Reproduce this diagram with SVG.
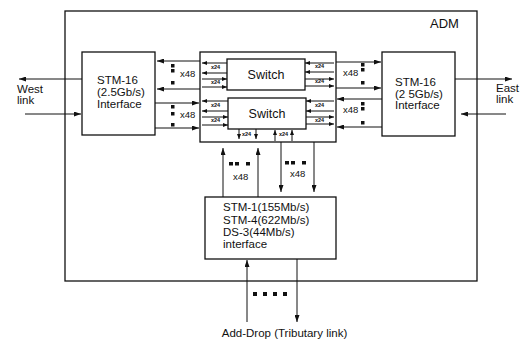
<svg xmlns="http://www.w3.org/2000/svg" width="523" height="341" viewBox="0 0 523 341">
<defs>
<marker id="ah" markerUnits="userSpaceOnUse" markerWidth="7" markerHeight="5" refX="7" refY="2.5" orient="auto"><path d="M0,0 L7,2.5 L0,5 z" fill="#111"/></marker>
<marker id="as" markerUnits="userSpaceOnUse" markerWidth="5" markerHeight="4" refX="5" refY="2" orient="auto"><path d="M0,0 L5,2 L0,4 z" fill="#111"/></marker>
<style>
.box{fill:#fff;stroke:#111;stroke-width:1.3}
.ln{stroke:#111;stroke-width:1;fill:none;marker-end:url(#ah)}
.sl{stroke:#111;stroke-width:1;fill:none;marker-end:url(#as)}
.t{font-family:"Liberation Sans",Arial,sans-serif;font-size:11.5px;fill:#111}
.m{font-family:"Liberation Sans",Arial,sans-serif;font-size:9.5px;fill:#111}
.s{font-family:"Liberation Sans",Arial,sans-serif;font-size:5.5px;font-weight:bold;fill:#111}
.sq{fill:#111}
</style>
</defs>
<rect width="523" height="341" fill="#fff"/>
<g id="adm">
<rect x="65" y="11" width="412" height="270" fill="none" stroke="#111" stroke-width="1.3"/>
<text class="t" x="430" y="28" style="font-size:13px">ADM</text>
</g>
<g id="west-interface">
<rect class="box" x="82" y="52" width="73" height="83"/>
<text class="t" x="97" y="84">STM-16</text>
<text class="t" x="97" y="96">(2.5Gb/s)</text>
<text class="t" x="97" y="108">Interface</text>
</g>
<g id="east-interface">
<rect class="box" x="382" y="52" width="73" height="84"/>
<text class="t" x="395" y="86">STM-16</text>
<text class="t" x="395" y="98">(2 5Gb/s)</text>
<text class="t" x="395" y="109">Interface</text>
</g>
<g id="switch-block">
<rect class="box" x="200" y="52" width="136" height="90"/>
</g>
<g id="switch-top">
<rect class="box" x="227" y="59" width="78" height="31"/>
<text class="t" x="266" y="79" text-anchor="middle" style="font-size:12.5px">Switch</text>
</g>
<g id="switch-bottom">
<rect class="box" x="228" y="98" width="78" height="31"/>
<text class="t" x="267" y="118" text-anchor="middle" style="font-size:12.5px">Switch</text>
</g>
<g id="tributary-interface">
<rect class="box" x="205" y="197" width="131" height="62"/>
<text class="t" x="223" y="211">STM-1(155Mb/s)</text>
<text class="t" x="223" y="224">STM-4(622Mb/s)</text>
<text class="t" x="223" y="236">DS-3(44Mb/s)</text>
<text class="t" x="223" y="248">interface</text>
</g>
<g id="west-link">
<text class="t" x="17" y="93">West</text>
<text class="t" x="17" y="104">link</text>
</g>
<g id="east-link">
<text class="t" x="496" y="92">East</text>
<text class="t" x="496" y="103">link</text>
</g>
<g id="add-drop">
<text class="t" x="284.5" y="337" text-anchor="middle">Add-Drop (Tributary link)</text>
</g>
<g id="connectors">
<!-- west link -->
<line class="ln" x1="82" y1="79" x2="19" y2="79"/>
<line class="ln" x1="25" y1="114" x2="81" y2="114"/>
<!-- east link -->
<line class="ln" x1="455" y1="79" x2="512" y2="79"/>
<line class="ln" x1="506" y1="114" x2="461" y2="114"/>
<!-- west interface to switch block -->
<line class="ln" x1="200" y1="61" x2="157" y2="61"/>
<line class="ln" x1="200" y1="89" x2="157" y2="89"/>
<line class="ln" x1="155" y1="103" x2="199" y2="103"/>
<line class="ln" x1="155" y1="128" x2="199" y2="128"/>
<!-- east interface to switch block -->
<line class="ln" x1="336" y1="62" x2="381" y2="62"/>
<line class="ln" x1="336" y1="88" x2="381" y2="88"/>
<line class="ln" x1="382" y1="99" x2="337" y2="99"/>
<line class="ln" x1="382" y1="127" x2="337" y2="127"/>
<!-- top switch internal -->
<line class="sl" x1="227" y1="63" x2="202" y2="63"/>
<line class="sl" x1="227" y1="73" x2="202" y2="73"/>
<line class="sl" x1="202" y1="79" x2="227" y2="79"/>
<line class="sl" x1="202" y1="87" x2="227" y2="87"/>
<line class="sl" x1="334" y1="63" x2="305" y2="63"/>
<line class="sl" x1="334" y1="72" x2="305" y2="72"/>
<line class="sl" x1="305" y1="79" x2="334" y2="79"/>
<line class="sl" x1="305" y1="86" x2="334" y2="86"/>
<!-- bottom switch internal -->
<line class="sl" x1="228" y1="101" x2="202" y2="101"/>
<line class="sl" x1="228" y1="111" x2="202" y2="111"/>
<line class="sl" x1="202" y1="117" x2="228" y2="117"/>
<line class="sl" x1="202" y1="125" x2="228" y2="125"/>
<line class="sl" x1="334" y1="101" x2="306" y2="101"/>
<line class="sl" x1="334" y1="111" x2="306" y2="111"/>
<line class="sl" x1="306" y1="117" x2="334" y2="117"/>
<line class="sl" x1="306" y1="124" x2="334" y2="124"/>
<line class="sl" x1="239" y1="129" x2="239" y2="139"/>
<line class="sl" x1="256" y1="129" x2="256" y2="139"/>
<line class="sl" x1="275" y1="141" x2="275" y2="130"/>
<line class="sl" x1="292" y1="141" x2="292" y2="130"/>
<!-- switch block to tributary -->
<line class="ln" x1="223" y1="197" x2="223" y2="148"/>
<line class="ln" x1="258" y1="197" x2="258" y2="148"/>
<line class="ln" x1="281" y1="142" x2="281" y2="192"/>
<line class="ln" x1="314" y1="142" x2="314" y2="192"/>
<!-- add-drop -->
<line class="ln" x1="247" y1="322" x2="247" y2="260"/>
<line class="ln" x1="297" y1="259" x2="297" y2="322"/>
</g>
<g id="labels">
<g class="sq">
<rect x="171" y="64" width="3.5" height="3.5"/><rect x="171" y="69" width="3.5" height="3.5"/><rect x="171" y="81" width="3.5" height="3.5"/>
<rect x="171" y="105" width="3.5" height="3.5"/><rect x="171" y="112" width="3.5" height="3.5"/><rect x="171" y="123" width="3.5" height="3.5"/>
<rect x="361" y="63" width="3.5" height="3.5"/><rect x="361" y="68" width="3.5" height="3.5"/><rect x="361" y="81" width="3.5" height="3.5"/>
<rect x="361" y="102" width="3.5" height="3.5"/><rect x="361" y="107" width="3.5" height="3.5"/><rect x="361" y="121" width="3.5" height="3.5"/>
<rect x="229" y="162" width="4" height="3.5"/><rect x="235" y="162" width="4" height="3.5"/><rect x="246" y="162" width="4" height="3.5"/>
<rect x="285" y="161" width="4" height="3.5"/><rect x="291" y="161" width="4" height="3.5"/><rect x="302" y="161" width="4" height="3.5"/>
<rect x="253" y="292" width="4" height="4"/><rect x="263" y="292" width="4" height="4"/><rect x="273" y="292" width="4" height="4"/><rect x="283" y="292" width="4" height="4"/>
</g>
<text class="m" x="180" y="77">x48</text>
<text class="m" x="180" y="118">x48</text>
<text class="m" x="343" y="76">x48</text>
<text class="m" x="343" y="113">x48</text>
<text class="m" x="233" y="180">x48</text>
<text class="m" x="290" y="177">x48</text>
<text class="s" x="211" y="69">x24</text>
<text class="s" x="211" y="84">x24</text>
<text class="s" x="315" y="68">x24</text>
<text class="s" x="315" y="83">x24</text>
<text class="s" x="211" y="107">x24</text>
<text class="s" x="211" y="122">x24</text>
<text class="s" x="315" y="107">x24</text>
<text class="s" x="315" y="122">x24</text>
<text class="s" x="242" y="136">x24</text>
<text class="s" x="279" y="136">x24</text>
</g>
</svg>
